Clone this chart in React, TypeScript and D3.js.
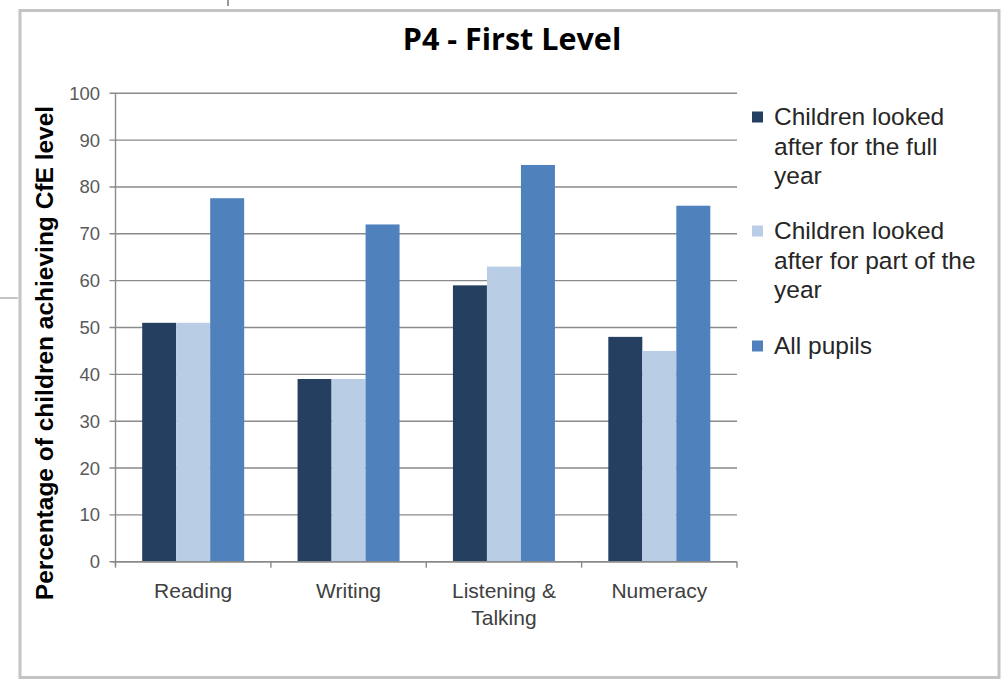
import React from "react";
import * as d3 from "d3";

const categories = ["Reading", "Writing", "Listening & Talking", "Numeracy"];
const categoryLines = [["Reading"], ["Writing"], ["Listening &", "Talking"], ["Numeracy"]];
const seriesNames = [
  "Children looked after for the full year",
  "Children looked after for part of the year",
  "All pupils",
];
const legendLines = [
  ["Children looked", "after for the full", "year"],
  ["Children looked", "after for part of the", "year"],
  ["All pupils"],
];
const fullYear = [51, 39, 59, 48];
const partYear = [51, 39, 63, 45];
const allPupils = [77.6, 72, 84.7, 76];
const yTicks = [0, 10, 20, 30, 40, 50, 60, 70, 80, 90, 100];
const colors = ["#253F60", "#B9CDE5", "#4F81BD"];

export default function App() {
  const W = 1004, H = 681;
  const left = 115.5, right = 737, top = 93.3, bottom = 561.7;
  const x = d3.scaleBand<string>().domain(categories).range([left, right]).paddingInner(0).paddingOuter(0);
  const xs = d3.scaleBand<number>().domain([0, 1, 2]).range([0, x.bandwidth()]).paddingInner(0).paddingOuter(0.785);
  const y = d3.scaleLinear().domain([0, 100]).range([bottom, top]);
  const series = [fullYear, partYear, allPupils];
  const font = "'Liberation Sans', Arial, sans-serif";
  const legendY = [117, 231, 346];
  const lh = 29.5;

  return (
    <svg width={W} height={H} style={{ position: "absolute", left: 0, top: 0, background: "#fff" }}>
      <rect x={0} y={0} width={W} height={H} fill="#fff" />
      {/* outer frame */}
      <rect x={20} y={10.5} width={979} height={667} fill="none" stroke="#c4c4c4" strokeWidth={3} />
      <line x1={228} x2={228} y1={0} y2={6} stroke="#9a9a9a" strokeWidth={2} />
      <line x1={0} x2={18} y1={298} y2={298} stroke="#c4c4c4" strokeWidth={2} />
      {/* title */}
      <text x={512} y={50} textAnchor="middle" fontFamily="'Open Sans', 'Liberation Sans', sans-serif" fontWeight={700} fontSize={30.5} fill="#000">
        P4 - First Level
      </text>
      {/* gridlines */}
      {yTicks.map((t) => (
        <g key={t}>
          <line x1={left - 6} x2={right} y1={y(t)} y2={y(t)} stroke="#8a8a8a" strokeWidth={1.4} />
          <text x={100} y={y(t) + 6.5} textAnchor="end" fontFamily={font} fontSize={18.5} fill="#595959">
            {t}
          </text>
        </g>
      ))}
      {/* y axis */}
      <line x1={left} x2={left} y1={top} y2={bottom + 4} stroke="#8a8a8a" strokeWidth={1.4} />
      {/* bars */}
      {series.map((vals, si) =>
        vals.map((v, ci) => (
          <rect
            key={si + "-" + ci}
            x={(x(categories[ci]) as number) + (xs(si) as number)}
            y={y(v)}
            width={xs.bandwidth()}
            height={y(0) - y(v)}
            fill={colors[si]}
          />
        ))
      )}
      {/* x axis */}
      <line x1={left - 3} x2={right} y1={bottom} y2={bottom} stroke="#8a8a8a" strokeWidth={1.4} />
      {categories.map((c) => (
        <line key={c} x1={x(c) as number} x2={x(c) as number} y1={bottom} y2={bottom + 6} stroke="#8a8a8a" strokeWidth={1.4} />
      ))}
      <line x1={right} x2={right} y1={bottom} y2={bottom + 6} stroke="#8a8a8a" strokeWidth={1.4} />
      {categoryLines.map((lines, ci) => (
        <text key={ci} textAnchor="middle" fontFamily={font} fontSize={21} fill="#404040">
          {lines.map((l, li) => (
            <tspan key={li} x={(x(categories[ci]) as number) + x.bandwidth() / 2} y={598 + li * 27}>
              {l}
            </tspan>
          ))}
        </text>
      ))}
      {/* y title */}
      <text
        transform={`translate(53, 353) rotate(-90)`}
        textAnchor="middle"
        fontFamily={font}
        fontWeight={700}
        fontSize={24.5}
        fill="#000"
      >
        Percentage of children achieving CfE level
      </text>
      {/* legend */}
      {seriesNames.map((s, si) => (
        <g key={s}>
          <rect x={752} y={legendY[si] - 5.5} width={11} height={11} fill={colors[si]} />
          <text fontFamily={font} fontSize={24.5} fill="#262626">
            {legendLines[si].map((l, li) => (
              <tspan key={li} x={774} y={legendY[si] + 8 + li * lh}>
                {l}
              </tspan>
            ))}
          </text>
        </g>
      ))}
    </svg>
  );
}
